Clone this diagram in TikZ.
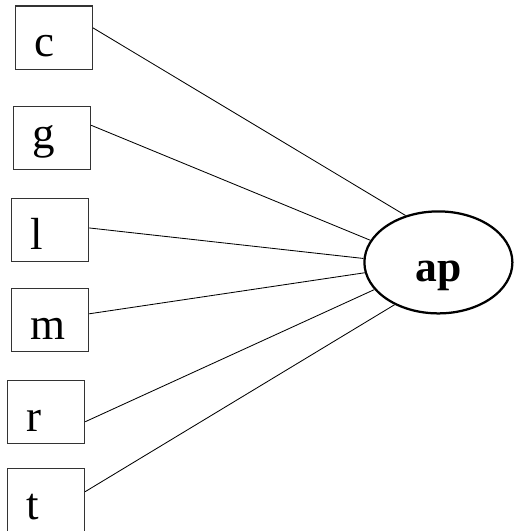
\documentclass[tikz,border=0pt]{standalone}
\usepackage{fontspec}
\setmainfont{Liberation Serif}
\usepackage{tikz}
\usetikzlibrary{shapes.geometric}

\begin{document}
\begin{tikzpicture}[
    obsbox/.style={draw=black!80, line width=0.8pt, minimum width=1.93cm, minimum height=1.58cm, inner ysep=0pt, inner xsep=0.48cm, text width=0.97cm, align=left, text height=0.95cm, text depth=0pt, font=\fontsize{32}{38}\selectfont},
    latvar/.style={ellipse, draw, line width=1.6pt, minimum width=3.7cm, minimum height=2.55cm, inner sep=0pt, text height=0.95cm, text depth=0pt, font=\fontsize{31}{37}\selectfont\bfseries},
    link/.style={line width=0.6pt}
  ]
      \useasboundingbox (0,0) rectangle (12.85,-13.275);

      \node[obsbox] (OBS1) at (1.344,-0.94) {c};
      \node[obsbox, text height=0.5cm] (OBS2) at (1.3,-3.45) {g};
      \node[obsbox] (OBS3) at (1.25,-5.75) {l};
      \node[obsbox] (OBS4) at (1.25,-8.0) {m};
      \node[obsbox] (OBS5) at (1.15,-10.3) {r};
      \node[obsbox] (OBS6) at (1.15,-12.5) {t};

      \node[latvar] (LAT1) at (10.96,-6.56) {ap};

      \draw[link] (node cs:name=OBS1, angle=14) -- (node cs:name=LAT1, angle=125);
      \draw[link] (node cs:name=OBS2, angle=18) -- (node cs:name=LAT1, angle=162);
      \draw[link] (node cs:name=OBS3, angle=3) -- (node cs:name=LAT1, angle=177);
      \draw[link] (node cs:name=OBS4, angle=9) -- (node cs:name=LAT1, angle=188);
      \draw[link] (node cs:name=OBS5, angle=-14) -- (node cs:name=LAT1, angle=203);
      \draw[link] (node cs:name=OBS6, angle=12) -- (node cs:name=LAT1, angle=224);
    \end{tikzpicture}
\end{document}
